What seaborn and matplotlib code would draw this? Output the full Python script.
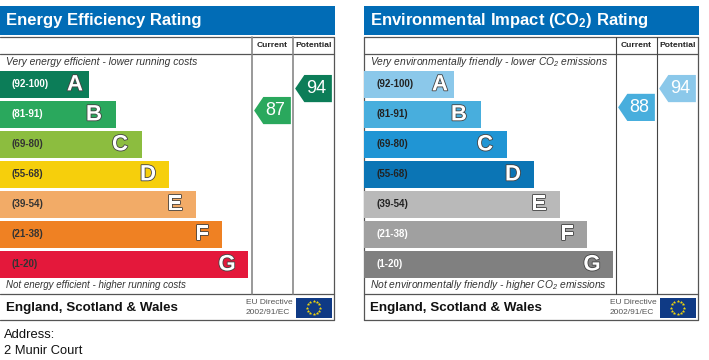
import matplotlib
matplotlib.use("Agg")
import matplotlib.pyplot as plt
import matplotlib.patheffects as pe
from matplotlib.path import Path
from matplotlib.patches import Rectangle
import numpy as np
import pandas as pd
import seaborn as sns

# data
bands = ["(92-100)", "(81-91)", "(69-80)", "(55-68)", "(39-54)", "(21-38)", "(1-20)"]
letters = ["A", "B", "C", "D", "E", "F", "G"]
bar_lengths_energy = [89, 116, 142, 169, 196, 222, 248]
bar_lengths_env = [90, 117, 143, 170, 196, 223, 249]
colors_energy = ["#0c7d58", "#2aa85d", "#8cbd3f", "#f6cf0c", "#f2ab67", "#ef8123", "#e4183b"]
colors_env = ["#8bc8ea", "#48aedd", "#2095d4", "#0b75b5", "#b9b9b9", "#a0a0a0", "#808080"]
band_text_energy = ["white", "white", "#333333", "#333333", "#333333", "#333333", "#333333"]
band_text_env = ["#222222", "#222222", "#222222", "#222222", "#222222", "white", "white"]
letter_offset = [14, 22, 22, 21, 21, 20, 21]
columns = ["Current", "Potential"]
scores_energy = [87, 94]
scores_env = [88, 94]
score_colors_energy = ["#2aa85d", "#0c7d58"]
score_colors_env = ["#48aedd", "#8bc8ea"]

W, H = 709, 360
sns.set_theme(style="white")
plt.rcParams["font.family"] = ["Liberation Sans", "DejaVu Sans"]
plt.rcParams["mathtext.default"] = "regular"

fig = plt.figure(figsize=(W / 100, H / 100), dpi=100)


def px_axes(x0, y0, x1, y1):
    # axes placed by pixel box, y counted from the top
    ax = fig.add_axes([x0 / W, 1 - y1 / H, (x1 - x0) / W, (y1 - y0) / H])
    ax.patch.set_alpha(0)
    ax.set_axis_off()
    return ax


bg = px_axes(0, 0, W, H)
bg.set_xlim(0, W)
bg.set_ylim(H, 0)

# arrow pointing left, used as the marker of the score
arrow = Path([(-1, 0), (-0.5, -0.74), (1, -0.74), (1, 0.74), (-0.5, 0.74), (-1, 0)], closed=True)


def panel(x0, pad, title, top_text, bottom_text, bottom_size, lengths, colors, band_text,
          scores, score_colors, frame, col_lw):
    right = x0 + 334
    col1 = x0 + 252
    col2 = x0 + 293

    bg.add_patch(Rectangle((x0, 6), 335, 28.5, color="#016cb6", lw=0))
    bg.text(x0 + pad, 20.5, title, color="white", fontsize=12, fontweight="bold", va="center")

    # table frame
    for y in [36.5, 53.5, 294, 320]:
        bg.plot([x0, right], [y, y], color="#555555", lw=0.9)
    bg.plot([col1, col1], [36.5, 294], color=frame, lw=col_lw)
    bg.plot([col2, col2], [36.5, 294], color=frame, lw=col_lw)
    bg.plot([right, right], [36.5, 320], color="#555555", lw=0.9)
    if x0 > 0:
        bg.plot([x0, x0], [36.5, 320], color="#555555", lw=0.9)

    bg.text(col1 + 20.5, 45.5, "Current", fontsize=6.1, fontweight="bold", color="#222222", ha="center", va="center")
    bg.text(col2 + 20.5, 45.5, "Potential", fontsize=6.1, fontweight="bold", color="#222222", ha="center", va="center")
    bg.text(x0 + pad, 62, top_text, fontsize=7.42, style="italic", color="#333333", va="center")
    bg.text(x0 + pad, 285.5, bottom_text, fontsize=bottom_size, style="italic", color="#333333", va="center")

    # footer
    bg.text(x0 + pad - 0.5, 307.5, "England, Scotland & Wales", fontsize=9.6, fontweight="bold", color="#111111", va="center")
    bg.text(x0 + 246, 303, "EU Directive", fontsize=6, color="#555555", va="center")
    bg.text(x0 + 246, 312.5, "2002/91/EC", fontsize=6, color="#555555", va="center")

    # rating bars
    ax = px_axes(x0, 69, x0 + 252, 279)
    bars = pd.DataFrame({"band": bands, "length": lengths})
    sns.barplot(data=bars, x="length", y="band", hue="band", palette=colors, legend=False,
                width=0.9, dodge=False, ax=ax, saturation=1, linewidth=0)
    ax.set_xlim(0, 252)
    ax.set_ylim(6.5, -0.5)
    ax.set_axis_off()
    for i, (band, letter) in enumerate(zip(bands, letters)):
        ax.text(pad + 6, i, band, fontsize=7, fontweight="bold", color=band_text[i], va="center")
        ax.text(lengths[i] - letter_offset[i], i + 0.03, letter, fontsize=16, fontweight="bold", color="white",
                ha="center", va="center", path_effects=[pe.withStroke(linewidth=1.2, foreground="#444444")])

    # score arrows, y axis is the rating itself
    sc = px_axes(col1, 54, x0 + 334, 294)
    points = pd.DataFrame({"col": columns, "score": scores})
    sns.scatterplot(data=points, x="col", y="score", hue="col", palette=score_colors, legend=False,
                    marker=arrow, s=700, linewidth=0, ax=sc)
    sc.set_xlim(-0.5, 1.5)
    sc.set_ylim(28.6, 105)
    sc.set_axis_off()
    for i, s in enumerate(scores):
        sc.text(i + 0.07, s, str(s), color="white", fontsize=13, ha="center", va="center")

    # EU flag
    flag = px_axes(x0 + 296, 298, x0 + 331.5, 317.5)
    flag.set_xlim(-1.84, 1.84)
    flag.set_ylim(-1, 1)
    flag.add_patch(Rectangle((-1.84, -1), 3.68, 2, color="#0f3a85", lw=0))
    angles = np.arange(12) * np.pi / 6
    flag.scatter(0.68 * np.cos(angles), 0.68 * np.sin(angles), s=3.5, marker="*", color="#f5d90a", linewidths=0.2)


panel(0, 6, "Energy Efficiency Rating",
      "Very energy efficient - lower running costs",
      "Not energy efficient - higher running costs", 7.07,
      bar_lengths_energy, colors_energy, band_text_energy, scores_energy, score_colors_energy, "#888888", 1.2)
panel(364, 6.5, "Environmental Impact (CO$_2$) Rating",
      "Very environmentally friendly - lower CO$_2$ emissions",
      "Not environmentally friendly - higher CO$_2$ emissions", 7.42,
      bar_lengths_env, colors_env, band_text_env, scores_env, score_colors_env, "#444444", 0.8)

bg.text(4, 334.5, "Address:", fontsize=9.4, color="#111111", va="center")
bg.text(4, 350.5, "2 Munir Court", fontsize=9.3, color="#111111", va="center")

fig.savefig("out.png", dpi=100)
